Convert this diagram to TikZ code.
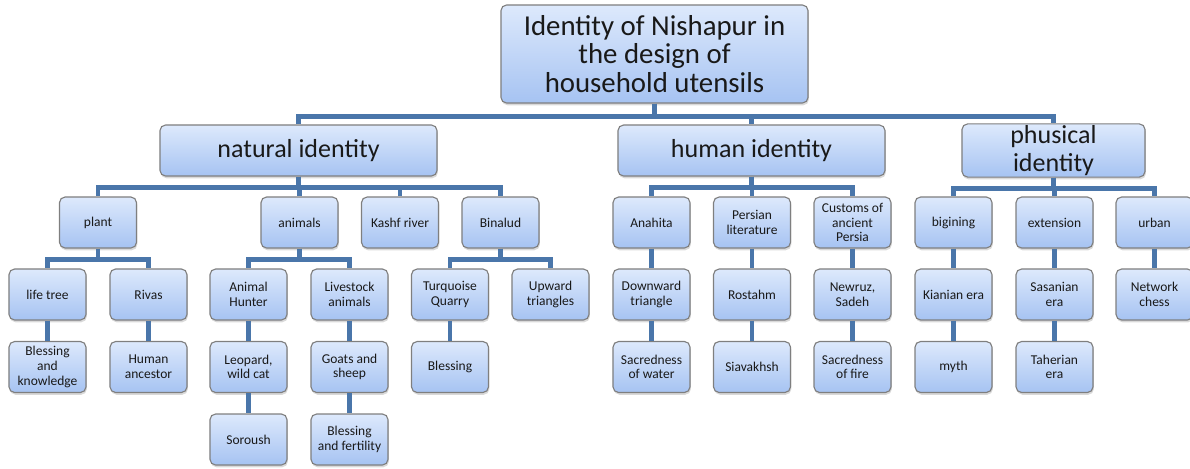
\documentclass[tikz,border=0pt]{standalone}
\usepackage{fontspec}
\setmainfont{Carlito}
\usetikzlibrary{positioning,shadows}
\definecolor{linkblue}{HTML}{4A76AA}
\definecolor{boxtop}{HTML}{DDE9FC}
\definecolor{boxbot}{HTML}{A6C3F2}
\definecolor{boxline}{HTML}{7F7F7F}
\begin{document}
\begin{tikzpicture}
		[x=0.025cm,y=-0.025cm,
		main node/.style={shape=rectangle,rounded corners=4pt,draw=boxline,line width=0.8pt,top color=boxtop,bottom color=boxbot,drop shadow={opacity=0.3,shadow xshift=0.6pt,shadow yshift=-1.6pt},align=center,inner sep=1pt,minimum height=1.275cm,text=black!90},
		leaf/.style={main node,minimum width=1.925cm,font=\fontsize{9.6}{10.4}\selectfont},
		head/.style={main node,font=\fontsize{18.5}{20}\selectfont},
		link/.style={draw=linkblue,line width=3.5pt,to path={(\tikztostart.south) -- ++(0,#1) -| (\tikztotarget)}},
		link/.default=11]
		\useasboundingbox (0,0) rectangle (1190,468);
		
		\node [main node,minimum width=7.675cm,minimum height=2.45cm,font=\fontsize{20.5}{20}\selectfont] (0) at (654.5,54) {Identity of Nishapur in\\the design of\\household utensils};
		
		\node [head,minimum width=6.925cm] (1) at (298.5,150.5) {natural identity};
		\node [head,minimum width=6.675cm] (2) at (751.5,150.5) {human identity};
		\node [head,minimum width=4.575cm] (3) at (1053.5,150.5) {phusical\\identity};
		
		\node [leaf] (4) at (98,222.5) {plant};
		\node [leaf] (5) at (299.5,222.5) {animals};
		\node [leaf] (6) at (400,222.5) {Kashf river};
		\node [leaf] (7) at (500.5,222.5) {Binalud};
		\node [leaf] (8) at (651.5,222.5) {Anahita};
		\node [leaf] (9) at (752,222.5) {Persian\\literature};
		\node [leaf] (10) at (852.5,222.5) {Customs of\\ancient\\Persia};
		\node [leaf] (11) at (953.5,222.5) {bigining};
		\node [leaf] (12) at (1054.5,222.5) {extension};
		\node [leaf] (13) at (1154.5,222.5) {urban};
		
		\node [leaf] (14) at (47.5,294.5) {life tree};
		\node [leaf] (15) at (148.5,294.5) {Rivas};
		\node [leaf] (16) at (248.5,294.5) {Animal\\Hunter};
		\node [leaf] (17) at (349.5,294.5) {Livestock\\animals};
		\node [leaf] (18) at (450,294.5) {Turquoise\\Quarry};
		\node [leaf] (19) at (550.5,294.5) {Upward\\triangles};
		\node [leaf] (20) at (651.5,294.5) {Downward\\triangle};
		\node [leaf] (21) at (752,294.5) {Rostahm};
		\node [leaf] (22) at (852.5,294.5) {Newruz,\\Sadeh};
		\node [leaf] (23) at (953.5,294.5) {Kianian era};
		\node [leaf] (24) at (1054.5,294.5) {Sasanian\\era};
		\node [leaf] (25) at (1154.5,294.5) {Network\\chess};
		
		\node [leaf] (26) at (47.5,367) {Blessing\\and\\knowledge};
		\node [leaf] (27) at (148.5,367) {Human\\ancestor};
		\node [leaf] (28) at (248.5,367) {Leopard,\\wild cat};
		\node [leaf] (29) at (349.5,367) {Goats and\\sheep};
		\node [leaf] (30) at (450,367) {Blessing};
		\node [leaf] (31) at (651.5,367) {Sacredness\\of water};
		\node [leaf] (32) at (752,367) {Siavakhsh};
		\node [leaf] (33) at (852.5,367) {Sacredness\\of fire};
		\node [leaf] (34) at (953.5,367) {myth};
		\node [leaf] (35) at (1054.5,367) {Taherian\\era};
		
		\node [leaf] (36) at (248.5,439.5) {Soroush};
		\node [leaf] (37) at (349.5,439.5) {Blessing\\and fertility};
		
		\path[link]
		(0) edge[link=13] (1)
		(0) edge[link=13] (2)
		(0) edge[link=13] (3)
		
		(1) edge (4)
		(1) edge (5)
		(1) edge (6)
		(1) edge (7)
		(2) edge (8)
		(2) edge (9)
		(2) edge (10)
		(3) edge (11)
		(3) edge (12)
		(3) edge (13)
		
		(4) edge (14)
		(4) edge (15)
		(5) edge (16)
		(5) edge (17)
		(7) edge (18)
		(7) edge (19)
		(8) edge (20)
		(9) edge (21)
		(10) edge (22)
		(11) edge (23)
		(12) edge (24)
		(13) edge (25)
		
		(14) edge (26)
		(15) edge (27)
		(16) edge (28)
		(17) edge (29)
		(18) edge (30)
		(20) edge (31)
		(21) edge (32)
		(22) edge (33)
		(23) edge (34)
		(24) edge (35)
		
		(28) edge (36)
		(29) edge (37)
		;
		
		\end{tikzpicture}
\end{document}
